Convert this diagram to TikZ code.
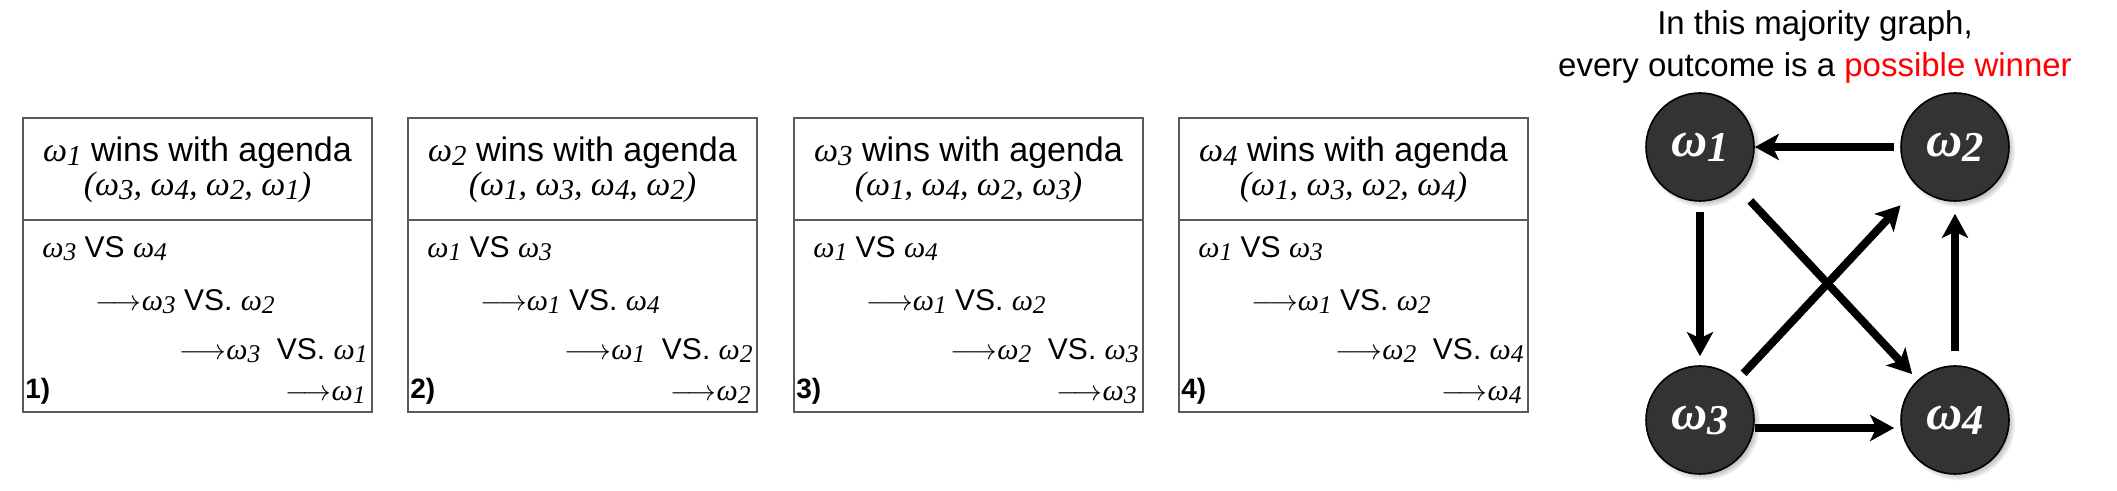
\documentclass[tikz,border=0pt]{standalone}
\usepackage{fontspec}
\setmainfont{Liberation Sans}
\newfontfamily\tmsfont{Liberation Serif}
\usetikzlibrary{arrows.meta,shadows}

\newcommand{\om}[1]{{\tmsfont\itshape ω\raisebox{-0.1em}{\scalebox{0.85}{#1}}}}
\newcommand{\ra}{$\longrightarrow$}

\definecolor{nodegray}{HTML}{333333}
\definecolor{boxgray}{HTML}{5A5A5A}

\tikzset{
	agendabox/.style={draw=boxgray, line width=1pt, minimum width=174.5pt, minimum height=147pt, inner sep=0pt},
	headtext/.style={font=\fontsize{17}{20}\selectfont, inner sep=0pt},
	bodytext/.style={font=\fontsize{15}{18}\selectfont, inner sep=0pt},
	numtext/.style={font=\fontsize{14}{17}\selectfont\bfseries, inner sep=0pt},
	outcome/.style={circle, fill=nodegray, draw=black, line width=0.8pt, minimum size=54pt, inner sep=0pt,
		text=white, font=\fontsize{25}{28}\selectfont\bfseries,
		circular drop shadow={shadow xshift=1.5pt, shadow yshift=-1.5pt, shadow scale=1.06, opacity=0.6}},
	beats/.style={line width=4pt, -{Stealth[length=12pt, width=13pt, inset=3pt]}},
}

\begin{document}
\begin{tikzpicture}[x=0.5pt, y=-0.5pt]
			\useasboundingbox (0,0) rectangle (2117,491);
			
			% Agenda 1
			\node[agendabox] (box1) at (197.5,265) {};
			\draw[boxgray, line width=1pt] (23,220) -- (372,220);
			\node[headtext, anchor=base] (head1a) at (197.5,162) {\om{1} wins with agenda};
			\node[headtext, anchor=base] (head1b) at (197.5,196) {{\tmsfont\itshape (\om{3}, \om{4}, \om{2}, \om{1})}};
			\node[bodytext, anchor=base west] (step1a) at (42,258) {\om{3} VS \om{4}};
			\node[bodytext, anchor=base west] (step1b) at (95,311) {\ra\om{3} VS. \om{2}};
			\node[bodytext, anchor=base east] (step1c) at (368,360) {\ra\om{3}\ \ VS. \om{1}};
			\node[numtext, anchor=base west] (num1) at (25,399) {1)};
			\node[bodytext, anchor=base east] (step1d) at (366,401) {\ra\om{1}};
			
			% Agenda 2
			\node[agendabox] (box2) at (582.5,265) {};
			\draw[boxgray, line width=1pt] (408,220) -- (757,220);
			\node[headtext, anchor=base] (head2a) at (582.5,162) {\om{2} wins with agenda};
			\node[headtext, anchor=base] (head2b) at (582.5,196) {{\tmsfont\itshape (\om{1}, \om{3}, \om{4}, \om{2})}};
			\node[bodytext, anchor=base west] (step2a) at (427,258) {\om{1} VS \om{3}};
			\node[bodytext, anchor=base west] (step2b) at (480,311) {\ra\om{1} VS. \om{4}};
			\node[bodytext, anchor=base east] (step2c) at (753,360) {\ra\om{1}\ \ VS. \om{2}};
			\node[numtext, anchor=base west] (num2) at (410,399) {2)};
			\node[bodytext, anchor=base east] (step2d) at (751,401) {\ra\om{2}};
			
			% Agenda 3
			\node[agendabox] (box3) at (968.5,265) {};
			\draw[boxgray, line width=1pt] (794,220) -- (1143,220);
			\node[headtext, anchor=base] (head3a) at (968.5,162) {\om{3} wins with agenda};
			\node[headtext, anchor=base] (head3b) at (968.5,196) {{\tmsfont\itshape (\om{1}, \om{4}, \om{2}, \om{3})}};
			\node[bodytext, anchor=base west] (step3a) at (813,258) {\om{1} VS \om{4}};
			\node[bodytext, anchor=base west] (step3b) at (866,311) {\ra\om{1} VS. \om{2}};
			\node[bodytext, anchor=base east] (step3c) at (1139,360) {\ra\om{2}\ \ VS. \om{3}};
			\node[numtext, anchor=base west] (num3) at (796,399) {3)};
			\node[bodytext, anchor=base east] (step3d) at (1137,401) {\ra\om{3}};
			
			% Agenda 4
			\node[agendabox] (box4) at (1353.5,265) {};
			\draw[boxgray, line width=1pt] (1179,220) -- (1528,220);
			\node[headtext, anchor=base] (head4a) at (1353.5,162) {\om{4} wins with agenda};
			\node[headtext, anchor=base] (head4b) at (1353.5,196) {{\tmsfont\itshape (\om{1}, \om{3}, \om{2}, \om{4})}};
			\node[bodytext, anchor=base west] (step4a) at (1198,258) {\om{1} VS \om{3}};
			\node[bodytext, anchor=base west] (step4b) at (1251,311) {\ra\om{1} VS. \om{2}};
			\node[bodytext, anchor=base east] (step4c) at (1524,360) {\ra\om{2}\ \ VS. \om{4}};
			\node[numtext, anchor=base west] (num4) at (1181,399) {4)};
			\node[bodytext, anchor=base east] (step4d) at (1522,401) {\ra\om{4}};
			
			% Caption of the graph
			\node[headtext, font=\fontsize{16.5}{20}\selectfont, anchor=base] (cap1) at (1815,35) {In this majority graph,};
			\node[headtext, font=\fontsize{16.5}{20}\selectfont, anchor=base] (cap2) at (1815,77) {every outcome is a \textcolor{red}{possible winner}};
			
			% Majority graph
			\node[outcome] (w1) at (1700,147) {\om{1}};
			\node[outcome] (w2) at (1955,147) {\om{2}};
			\node[outcome] (w3) at (1700,420) {\om{3}};
			\node[outcome] (w4) at (1955,420) {\om{4}};
			
			\draw[beats, shorten <=3pt] (w2) -- (w1);
			\draw[beats, shorten <=5pt, shorten >=4.5pt] (w1) -- (w3);
			\draw[beats, shorten >=3pt] ([yshift=-4pt]w3.east) -- ([yshift=-4pt]w4.west);
			\draw[beats, shorten <=7pt, shorten >=6pt] (w4) -- (w2);
			\draw[beats, shorten <=9.5pt, shorten >=4pt] (w1) -- (w4);
			\draw[beats, shorten <=4.5pt, shorten >=12.5pt] (w3) -- (w2);
			
		\end{tikzpicture}
\end{document}
